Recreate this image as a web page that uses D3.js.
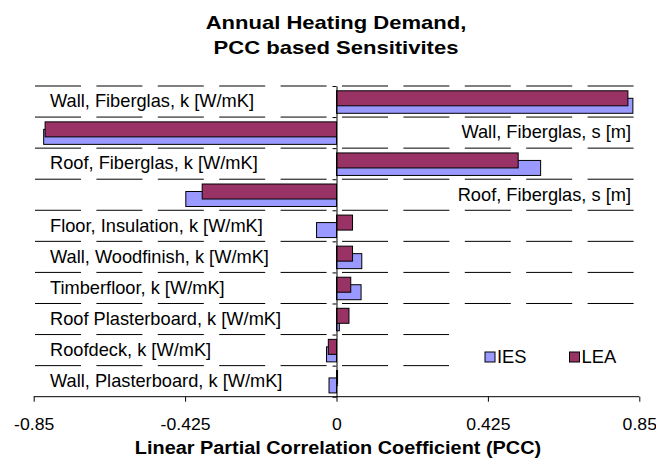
<!DOCTYPE html>
<html>
<head>
<meta charset="utf-8">
<script src="https://cdn.jsdelivr.net/npm/d3@7"></script>
<style>
  html, body { margin: 0; padding: 0; background: #fff; }
  svg { display: block; font-family: "Liberation Sans", Arial, sans-serif; }
</style>
</head>
<body>
<svg id="chart" width="656" height="459"></svg>
<script>
const categories = [
  "Wall, Fiberglas, k [W/mK]",
  "Wall, Fiberglas, s [m]",
  "Roof, Fiberglas, k [W/mK]",
  "Roof, Fiberglas, s [m]",
  "Floor, Insulation, k [W/mK]",
  "Wall, Woodfinish, k [W/mK]",
  "Timberfloor, k [W/mK]",
  "Roof Plasterboard, k [W/mK]",
  "Roofdeck, k [W/mK]",
  "Wall, Plasterboard, k [W/mK]"
];
const iesValues = [0.832, -0.822, 0.573, -0.423, -0.056, 0.071, 0.069, 0.008, -0.028, -0.021];
const leaValues = [0.818, -0.818, 0.510, -0.377, 0.045, 0.045, 0.040, 0.035, -0.023, 0.003];
const tickValues = [-0.85, -0.425, 0, 0.425, 0.85];
const tickLabels = ["-0.85", "-0.425", "0", "0.425", "0.85"];
const seriesNames = ["IES", "LEA"];
const titleLines = ["Annual Heating Demand,", "PCC based Sensitivites"];
const xTitle = "Linear Partial Correlation Coefficient (PCC)";

(function () {
const colors = { IES: "#9999ff", LEA: "#993366" };
const svg = d3.select("#chart");

const pLeft = 33.7, pRight = 639.3, pTop = 86, pBottom = 396.7;
const x = d3.scaleLinear().domain([-0.85, 0.85]).range([pLeft, pRight]);
const y = d3.scaleBand().domain(categories).range([pTop, pBottom]).padding(0);
const yIdx = d3.scaleLinear().domain([0, categories.length]).range([pTop, pBottom]);
const step = y.step();
const barH = 15;
const barOff = 4.8;

function stretchedText(g, px, py, txt, size, sx, anchor, weight) {
  return g.append("g").attr("transform", `translate(${px},${py}) scale(${sx},1)`)
    .append("text")
    .attr("text-anchor", anchor)
    .attr("font-size", size)
    .attr("font-weight", weight || "normal")
    .attr("fill", "#000")
    .text(txt);
}

// title
titleLines.forEach((l, i) => {
  stretchedText(svg, 336, 28.5 + i * 25.5, l, 19, 1.16, "middle", "bold");
});

// gridlines at category boundaries (dashed)
const gridG = svg.append("g");
d3.range(categories.length).forEach(i => {
  gridG.append("line")
    .attr("x1", pLeft + 1.3).attr("x2", 634)
    .attr("y1", yIdx(i)).attr("y2", yIdx(i))
    .attr("stroke", "#000").attr("stroke-width", 1)
    .attr("stroke-dasharray", "46,15.4");
});

// legend background (covers gridlines)
const legG = svg.append("g");
legG.append("rect").attr("x", 449).attr("y", 312).attr("width", 196).attr("height", 80).attr("fill", "#fff");

// bars
const barsG = svg.append("g");
function drawSeries(vals, name, offset) {
  barsG.selectAll(null).data(vals).enter().append("rect")
    .attr("x", d => x(Math.min(0, d)))
    .attr("width", d => Math.abs(x(d) - x(0)))
    .attr("y", (d, i) => y(categories[i]) + offset)
    .attr("height", barH)
    .attr("fill", colors[name])
    .attr("stroke", "#000")
    .attr("stroke-width", 1);
}
drawSeries(iesValues, "IES", barOff + barH / 2);
drawSeries(leaValues, "LEA", barOff);

// y axis at zero with ticks at category boundaries
const yAxis = d3.axisLeft(yIdx).tickValues(d3.range(categories.length + 1)).tickSize(4).tickSizeOuter(0).tickFormat("");
const yAxG = svg.append("g").attr("transform", `translate(${x(0)},0)`).call(yAxis);
yAxG.selectAll("path,line").attr("stroke", "#000").attr("stroke-width", 1);

// x axis
const xAxis = d3.axisBottom(x).tickValues(tickValues).tickSize(5).tickSizeOuter(0)
  .tickFormat((d, i) => tickLabels[i]).tickPadding(16.6);
const xAxG = svg.append("g").attr("transform", `translate(0,${pBottom})`).call(xAxis);
xAxG.selectAll("path,line").attr("stroke", "#000").attr("stroke-width", 1);
xAxG.select(".domain").attr("d", `M${pLeft},0H${pRight}`);
xAxG.selectAll("text")
  .attr("font-size", 16.5)
  .attr("font-family", '"Liberation Sans", Arial, sans-serif')
  .attr("fill", "#000")
  .attr("transform", "scale(1.07,1)");

// category labels
const labG = svg.append("g");
categories.forEach((c, i) => {
  const neg = iesValues[i] < -0.1;
  const cy = y(c) + step / 2 + 5.8;
  if (neg) stretchedText(labG, 631, cy, c, 17.8, 1.025, "end");
  else stretchedText(labG, 50, cy, c, 17.8, 1.025, "start");
});

// axis title
stretchedText(svg, 338, 454, xTitle, 18.5, 1.075, "middle", "bold");

// legend items
const legX = [485, 569.5];
seriesNames.forEach((n, i) => {
  legG.append("rect").attr("x", legX[i]).attr("y", 352).attr("width", 10).attr("height", 10)
    .attr("fill", colors[n]).attr("stroke", "#000").attr("stroke-width", 1);
  stretchedText(legG, legX[i] + 12, 363, n, 17.5, 1.05, "start");
});
})();
</script>
</body>
</html>
